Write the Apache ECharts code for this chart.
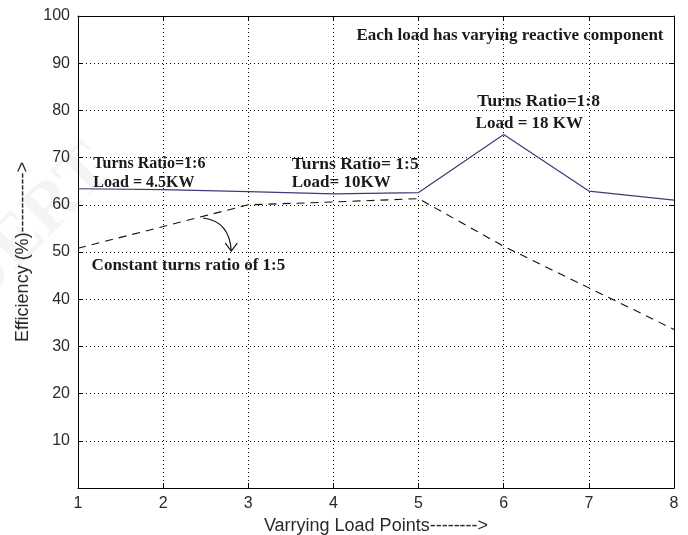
<!DOCTYPE html>
<html>
<head>
<meta charset="utf-8">
<script src="https://cdn.jsdelivr.net/npm/echarts@6/dist/echarts.min.js"></script>
<style>html,body{margin:0;padding:0;background:#fff}#c{width:688px;height:535px}</style>
</head>
<body>
<div id="c"></div>
<script>
var loadPoints = [1, 2, 3, 4, 5, 6, 7, 8];
var varyingRatio = [63.4, 63.2, 62.8, 62.3, 62.6, 74.9, 62.9, 61.0];
var constantRatio = [50.8, 55.4, 60.0, 60.6, 61.3, 51.2, 42.4, 33.6];
var yTicks = [0, 10, 20, 30, 40, 50, 60, 70, 80, 90, 100];
var annotations = [
  {text: 'Each load has varying reactive component', x: 4.27, y: 95.8, size: 17},
  {text: 'Turns Ratio=1:6', x: 1.18, y: 68.6, size: 16},
  {text: 'Load = 4.5KW', x: 1.18, y: 64.6, size: 16},
  {text: 'Turns Ratio= 1:5', x: 3.51, y: 68.6, size: 17.5},
  {text: 'Load= 10KW', x: 3.51, y: 64.6, size: 17},
  {text: 'Turns Ratio=1:8', x: 5.69, y: 81.8, size: 17.5},
  {text: 'Load = 18 KW', x: 5.67, y: 77.3, size: 17},
  {text: 'Constant turns ratio of 1:5', x: 1.16, y: 47.2, size: 17}
];

var chart = echarts.init(document.getElementById('c'));
function pairs(xs, ys){ return xs.map(function(x,i){ return [x, ys[i]]; }); }
var tickStyle = {show: true, inside: true, length: 5, lineStyle: {color: '#000', width: 1}};
var axisLine = {show: true, onZero: false, lineStyle: {color: '#000', width: 1}};
var labelFont = {color: '#2a2a2a', fontFamily: 'Liberation Sans, Arial, sans-serif', fontSize: 16};
var nameFont = {color: '#2a2a2a', fontFamily: 'Liberation Sans, Arial, sans-serif', fontSize: 18};

chart.setOption({
  animation: false,
  backgroundColor: '#fff',
  grid: {left: 78, right: 14, top: 16, bottom: 47, containLabel: false, outerBoundsMode: 'none'},
  xAxis: [{
    type: 'value', min: 1, max: 8, interval: 1,
    name: 'Varrying Load Points-------->', nameLocation: 'middle', nameGap: 29,
    nameTextStyle: nameFont,
    axisLine: axisLine, axisTick: tickStyle,
    axisLabel: Object.assign({margin: 8}, labelFont),
    splitLine: {show: true, lineStyle: {color: '#000', width: 1, type: [1, 3]}}
  }, {
    type: 'value', min: 1, max: 8, interval: 1, position: 'top',
    axisLine: axisLine, axisTick: tickStyle, axisLabel: {show: false}, splitLine: {show: false}
  }],
  yAxis: [{
    type: 'value', min: 0, max: 100, interval: 10,
    name: 'Efficiency (%)---------->', nameLocation: 'middle', nameGap: 46,
    nameTextStyle: nameFont,
    axisLine: axisLine, axisTick: tickStyle,
    axisLabel: Object.assign({margin: 8, formatter: function(v){ return v === 0 ? '' : String(v); }}, labelFont),
    splitLine: {show: true, lineStyle: {color: '#000', width: 1, type: [1, 3]}}
  }, {
    type: 'value', min: 0, max: 100, interval: 10, position: 'right',
    axisLine: axisLine, axisTick: tickStyle, axisLabel: {show: false}, splitLine: {show: false}
  }],
  series: [{
    type: 'line', data: pairs(loadPoints, varyingRatio), symbol: 'none',
    lineStyle: {color: '#3b3b78', width: 1.2}
  }, {
    type: 'line', data: pairs(loadPoints, constantRatio), symbol: 'none',
    lineStyle: {color: '#111', width: 1.1, type: [8, 6]}
  }]
});

function px(x, y){ return chart.convertToPixel({gridIndex: 0}, [x, y]); }
var graphics = [{type: 'text', x: 30, y: 230, rotation: Math.PI/4, z: 0,
  style: {text: 'IJERT', fill: 'rgba(0,0,0,0.045)', font: 'bold 70px "Liberation Serif", serif',
    textAlign: 'center', textVerticalAlign: 'middle'}}];
annotations.forEach(function(a){
  var p = px(a.x, a.y);
  graphics.push({type: 'text', x: p[0], y: p[1], z: 10,
    style: {text: a.text, fill: '#1a1a1a', font: 'bold ' + a.size + 'px "Liberation Serif", "Times New Roman", serif',
      textAlign: 'left', textVerticalAlign: 'middle'}});
});
var s = px(2.47, 57.2), c1 = px(2.78, 56.5), e = px(2.80, 50.2);
graphics.push({type: 'bezierCurve', z: 10,
  shape: {x1: s[0], y1: s[1], x2: e[0], y2: e[1], cpx1: c1[0], cpy1: c1[1]},
  style: {stroke: '#111', lineWidth: 1.2, fill: null}});
graphics.push({type: 'polyline', z: 10,
  shape: {points: [[e[0]-6, e[1]-8], [e[0], e[1]], [e[0]+6, e[1]-8]]},
  style: {stroke: '#111', lineWidth: 1.2, fill: null}});
chart.setOption({graphic: graphics});
</script>
</body>
</html>
